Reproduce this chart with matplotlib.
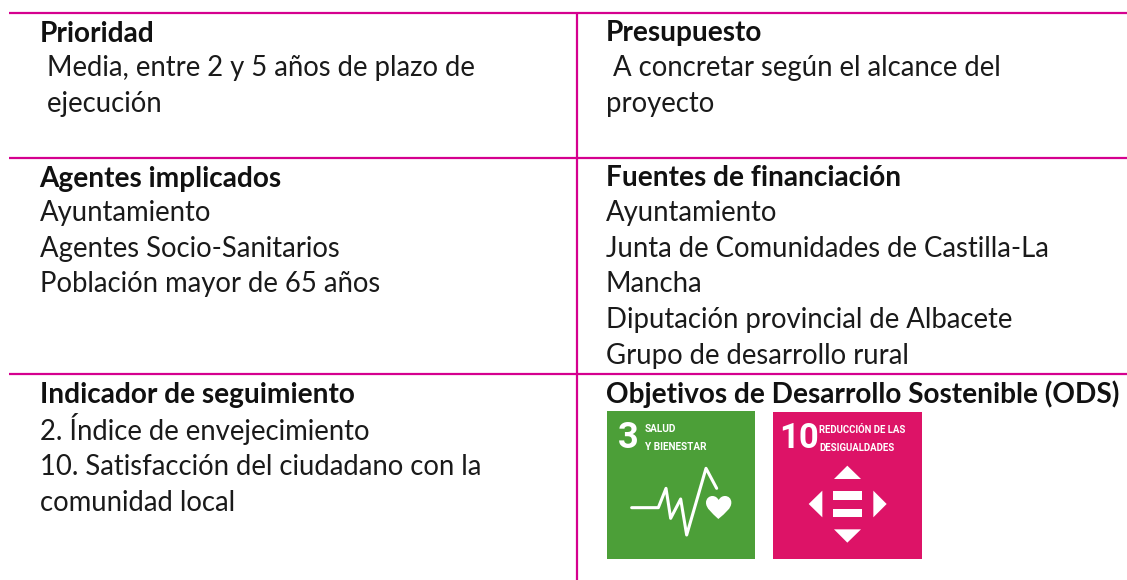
import matplotlib
matplotlib.use("Agg")
import matplotlib.pyplot as plt
from matplotlib.patches import Rectangle, Polygon, PathPatch
from matplotlib.path import Path

W, H = 1127, 580
LINE = "#D5008F"
GREEN = "#4C9F38"
PINK = "#DD1367"
FONT = ["Lato", "Open Sans", "DejaVu Sans"]
NARROW = ["Roboto", "Liberation Sans", "DejaVu Sans"]

left_cells = [
    ("Prioridad", [(" Media, entre 2 y 5 años de plazo de", 68), (" ejecución", 104)], 33.5),
    ("Agentes implicados", [("Ayuntamiento", 213), ("Agentes Socio-Sanitarios", 249),
                            ("Población mayor de 65 años", 284)], 178.5),
    ("Indicador de seguimiento", [("2. Índice de envejecimiento", 429),
                                  ("10. Satisfacción del ciudadano con la", 467),
                                  ("comunidad local", 503)], 394.5),
]
right_cells = [
    ("Presupuesto", [(" A concretar según el alcance del", 68), ("proyecto", 104)], 33.5),
    ("Fuentes de financiación", [("Ayuntamiento", 213), ("Junta de Comunidades de Castilla-La", 249),
                                 ("Mancha", 284), ("Diputación provincial de Albacete", 320),
                                 ("Grupo de desarrollo rural", 356)], 178.5),
    ("Objetivos de Desarrollo Sostenible (ODS)", [], 394.5),
]

fig = plt.figure(figsize=(W / 100, H / 100), dpi=100, facecolor="white")
ax = fig.add_axes([0, 0, 1, 1])
ax.set_xlim(0, W)
ax.set_ylim(H, 0)
ax.axis("off")

for y in (13, 157.5, 374):
    ax.plot([9, W], [y, y], color=LINE, lw=1.6, solid_capstyle="butt")
ax.plot([577, 577], [13, H], color=LINE, lw=1.6, solid_capstyle="butt")

def cell(x, cells):
    for head, rows, yh in cells:
        ax.text(x, yh, head, fontsize=20.2, fontweight="bold", family=FONT, color="#111111", va="center")
        for t, y in rows:
            ax.text(x, y, t, fontsize=19.8, family=FONT, color="#1a1a1a", va="center")

cell(39.5, left_cells)
cell(606, right_cells)

# SDG 3 icon
ax.add_patch(Rectangle((607, 411), 148, 148, color=GREEN, lw=0))
ax.text(618, 438, "3", color="white", fontsize=26, fontweight="bold", family=NARROW, va="center", ha="left")
ax.text(645, 429, "SALUD", color="white", fontsize=7.2, fontweight="bold", family=NARROW, va="center")
ax.text(645, 447, "Y BIENESTAR", color="white", fontsize=7.2, fontweight="bold", family=NARROW, va="center")
ox, oy = 590, 400
pulse = [(125, 323), (205, 323), (228, 265), (242, 355), (272, 297), (290, 405), (348, 205), (380, 265)]
ax.plot([ox + a / 3 for a, b in pulse], [oy + b / 3 for a, b in pulse], color="white", lw=2.2,
        solid_joinstyle="round", solid_capstyle="round")
heart = [(385, 357), (365, 338), (348, 325), (348, 308), (348, 295), (358, 288), (367, 288),
         (376, 288), (382, 293), (386, 300), (390, 293), (396, 288), (405, 288),
         (415, 288), (424, 295), (424, 308), (424, 325), (407, 338), (385, 357)]
hcodes = [Path.MOVETO] + [Path.CURVE4] * 18
ax.add_patch(PathPatch(Path([(ox + a / 3, oy + b / 3) for a, b in heart], hcodes), fc="white", ec="none"))

# SDG 10 icon
ax.add_patch(Rectangle((773, 412), 149, 147, color=PINK, lw=0))
ax.text(779, 438, "10", color="white", fontsize=25, fontweight="bold", family=NARROW, va="center", ha="left")
ax.text(819, 430, "REDUCCIÓN DE LAS", color="white", fontsize=6.9, fontweight="bold", family=NARROW, va="center")
ax.text(819, 448, "DESIGUALDADES", color="white", fontsize=6.9, fontweight="bold", family=NARROW, va="center")
shapes = [
    [(732, 237), (813, 237), (772, 197)],
    [(732, 388), (813, 388), (772, 428)],
    [(697, 272), (697, 352), (656, 312)],
    [(850, 272), (850, 352), (890, 312)],
    [(730, 274), (815, 274), (815, 299), (730, 299)],
    [(730, 327), (815, 327), (815, 352), (730, 352)],
]
for s in shapes:
    ax.add_patch(Polygon([(ox + a / 3, oy + b / 3) for a, b in s], closed=True, fc="white", ec="none"))

fig.savefig("out.png", dpi=100, facecolor="white")
